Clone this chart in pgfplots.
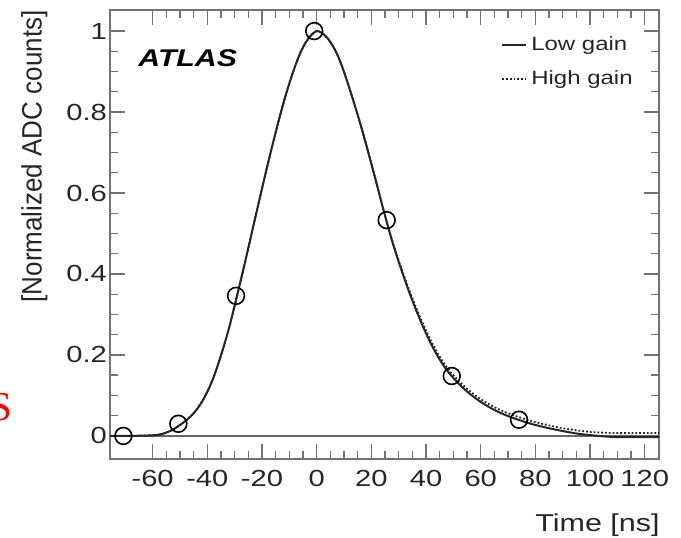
\documentclass[border=0pt]{standalone}
\usepackage{pgfplots}
\pgfplotsset{compat=1.18}
\usepackage{fontspec}
\setmainfont{Liberation Sans}
\newfontfamily\wide{Liberation Sans}[FakeStretch=1.25]
\newfontfamily\serif{Liberation Serif}
\usepackage{graphicx}
\begin{document}
\begin{tikzpicture}
\useasboundingbox (0,0) rectangle (340.5pt,268.5pt);
\begin{axis}[
  scale only axis,
  width=274.5pt, height=224.5pt,
  at={(55pt,39pt)}, anchor=south west,
  xmin=-75.6, xmax=125.2, ymin=-0.057, ymax=1.052,
  xtick={-60,-40,-20,0,20,40,60,80,100,120},
  xticklabels={-60,-40,-20,0,20,40,60,80,100,120},
  ytick={0,0.2,0.4,0.6,0.8,1},
  yticklabels={0,0.2,0.4,0.6,0.8,1},
  minor x tick num=3, minor y tick num=3,
  tick align=inside, xtick pos=both, ytick pos=both,
  major tick length=7.5pt, minor tick length=3.8pt,
  axis line style={black!55, line width=0.8pt},
  tick style={black!55, line width=0.7pt},
  ticklabel style={font=\wide\fontsize{11.65}{13}\selectfont, text=black!85},
  xticklabel style={yshift=-2pt},
  yticklabel style={xshift=2pt},
  legend style={draw=none, fill=none, font=\wide\fontsize{9.6}{11}\selectfont,
    at={(axis description cs:0.712,0.951)}, anchor=north west, inner sep=0pt,
    row sep=4.5pt, text=black!85},
  legend cell align=left,
  legend image code/.code={\draw[#1] (0pt,0pt) -- (12pt,0pt);},
]
\addplot[black!60, line width=0.8pt, forget plot] coordinates {(-75.6,0) (125.2,0)};
\addplot[black!85, line width=1pt, smooth, tension=0.5] coordinates {
(-75.6,0) (-70,0) (-65,0.0005) (-60,0.0015) (-57,0.004) (-54,0.011) (-52,0.018)
(-50,0.027) (-48,0.037) (-46,0.049) (-44,0.064) (-42,0.084) (-40,0.109) (-38,0.14)
(-36,0.178) (-34,0.221) (-32,0.268) (-30,0.322) (-28,0.378) (-26,0.435) (-24,0.494)
(-22,0.553) (-20,0.611) (-18,0.668) (-16,0.723) (-14,0.776) (-12,0.826) (-10,0.871)
(-8,0.911) (-6,0.946) (-4,0.972) (-2,0.99) (0,1.0) (2,0.995) (4,0.982) (6,0.962)
(8,0.935) (10,0.899) (12,0.858) (14,0.815) (16,0.77) (18,0.722) (20,0.672) (22,0.621)
(24,0.569) (26,0.519) (28,0.472) (30,0.43) (32,0.39) (34,0.352) (36,0.317) (38,0.284)
(40,0.253) (42,0.225) (44,0.2) (46,0.178) (48,0.159) (50,0.143) (53,0.122) (56,0.104)
(60,0.084) (65,0.064) (70,0.049) (75,0.037) (80,0.027) (85,0.019) (90,0.012)
(95,0.006) (100,0.002) (105,-0.001) (110,-0.003) (118,-0.003) (125.2,-0.003)
};
\addlegendentry{Low gain}
\addplot[black!85, line width=0.9pt, densely dotted, smooth, tension=0.5] coordinates {
(-75.6,0) (-70,0) (-65,0.0005) (-60,0.0015) (-57,0.004) (-54,0.011) (-52,0.018)
(-50,0.027) (-48,0.037) (-46,0.049) (-44,0.064) (-42,0.084) (-40,0.109) (-38,0.14)
(-36,0.178) (-34,0.221) (-32,0.268) (-30,0.322) (-28,0.378) (-26,0.435) (-24,0.494)
(-22,0.553) (-20,0.611) (-18,0.668) (-16,0.723) (-14,0.776) (-12,0.826) (-10,0.871)
(-8,0.911) (-6,0.946) (-4,0.972) (-2,0.99) (0,1.0) (2,0.995) (4,0.982) (6,0.962)
(8,0.935) (10,0.899) (12,0.858) (14,0.815) (16,0.77) (18,0.722) (20,0.672) (22,0.621)
(24,0.569) (26,0.52) (28,0.474) (30,0.433) (32,0.394) (34,0.357) (36,0.323) (38,0.29)
(40,0.26) (42,0.232) (44,0.207) (46,0.185) (48,0.166) (50,0.15) (53,0.129) (56,0.111)
(60,0.091) (65,0.071) (70,0.056) (75,0.044) (80,0.034) (85,0.026) (90,0.019)
(95,0.014) (100,0.01) (105,0.008) (110,0.007) (118,0.007) (125.2,0.007)
};
\addlegendentry{High gain}
\addplot[only marks, mark=o, mark size=4.2pt, black, mark options={line width=0.8pt}, forget plot] coordinates {
(-70.7,0) (-50.6,0.03) (-29.5,0.346) (-0.9,1.0) (25.6,0.533) (49.4,0.148) (74,0.04)
};
\end{axis}
\node[anchor=base west, inner sep=0pt, font=\wide\bfseries\itshape\fontsize{12.1}{14}\selectfont] at (69pt,235pt) {ATLAS};
\node[anchor=base east, inner sep=0pt, font=\wide\fontsize{12.2}{14}\selectfont, text=black!85] at (330pt,2.65pt) {Time [ns]};
\node[rotate=90, anchor=base east, inner sep=0pt, font=\fontsize{13}{15}\selectfont, text=black!85] at (20.8pt,263.5pt) {\scalebox{1}[1.08]{[Normalized ADC counts]}};
\node[anchor=base east, inner sep=0pt, font=\serif\fontsize{20.5}{24}\selectfont, text=red] at (6.6pt,58.15pt) {S};
\end{tikzpicture}
\end{document}
